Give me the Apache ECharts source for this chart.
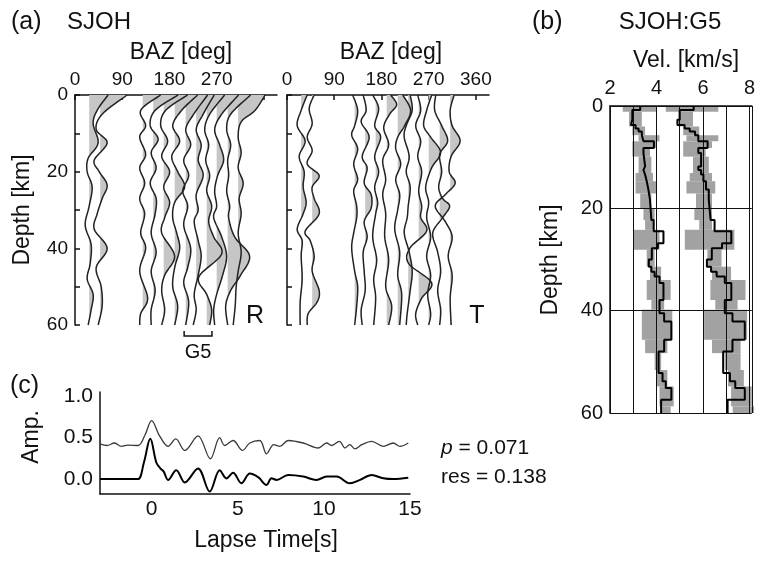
<!DOCTYPE html>
<html>
<head>
<meta charset="utf-8">
<script src="https://cdn.jsdelivr.net/npm/echarts@6/dist/echarts.min.js"></script>
<style>
  html, body { margin: 0; padding: 0; background: #fff; }
  #chart { width: 758px; height: 564px; }
</style>
</head>
<body>
<div id="chart"></div>
<script>
const FONT = '"Liberation Sans", Arial, Helvetica, sans-serif';
const INK = '#111';

// ---- (a) receiver functions, one trace per back azimuth ----
const BAZ = [27, 48, 129, 149, 169, 190, 211, 231, 251, 270, 291, 311];
const BAZ_TICKS = [0, 90, 180, 270, 360];
const DEPTH_LABELS = [0, 20, 40, 60];
const G5_RANGE = [208, 261];

// [depth km, amplitude]
const R_TRACES = [
  [[0,0.38],[4,0.16],[7.5,0.08],[12.5,0.18],[16.5,-0.02],[20,-0.04],[24,0.06],[29,0],[34,-0.08],[39,0.04],[44,0.02],[48,-0.04],[52,0.08],[56,0.04],[60,-0.02]],
  [[0,0.54],[5,0.04],[9,-0.08],[12.5,0.14],[17,-0.12],[20,-0.02],[23.5,0.14],[27,0.04],[31,-0.06],[35,-0.12],[40,0.14],[45,-0.08],[50,0.02],[55,0.04],[60,-0.04]],
  [[0,0.36],[4,-0.04],[8,0.06],[11,-0.06],[15.5,0.06],[19,-0.06],[23,0.04],[27,-0.06],[31,0.04],[36,-0.04],[40,0.06],[46,-0.06],[53,0.1],[57,-0.04],[60,-0.06]],
  [[0,0.5],[4,0.04],[8,-0.06],[11.5,0.1],[15,-0.04],[19,0.06],[23,-0.06],[27,0.06],[31,0.04],[36,-0.04],[41,0.06],[46,-0.04],[51,0.04],[56,-0.04],[60,-0.04]],
  [[0,0.48],[4,0.04],[8,-0.06],[12,0.08],[16,-0.04],[20,0.12],[24,0],[28,0.12],[32,0.02],[36,-0.04],[42,0.22],[47,0.02],[51,-0.04],[56,0.02],[60,-0.04]],
  [[0,0.46],[4,0.14],[8,-0.04],[12,0.1],[16,-0.06],[20,0.06],[24,0.2],[28,0],[32,-0.04],[36,0.04],[40,0.1],[45,0],[50,-0.04],[55,0.06],[60,0]],
  [[0,0.44],[5,0.16],[9,0],[13,0.1],[17,-0.04],[21,0.06],[25,-0.06],[29,0.04],[34,-0.04],[40,0.1],[45,0.04],[49,-0.04],[54,0.06],[60,0]],
  [[0,0.36],[5,0.14],[9,0],[13,0.1],[17,0.04],[21,0.14],[26,0],[30,0.04],[33,-0.04],[38,0.04],[42,0.1],[47,0.04],[52,-0.04],[56,0],[60,-0.06]],
  [[0,0.36],[5,0.06],[9,-0.04],[13,0.04],[17,-0.02],[21,0.06],[25,0],[29,0.1],[33,0.04],[37,0.14],[41.5,0.3],[47.5,-0.16],[52,0],[56,0.1],[60,0.06]],
  [[0,0.44],[5,0.1],[9,-0.04],[13,0.06],[17,0.14],[21,0.02],[25,-0.04],[29,0],[32,-0.06],[37,0.1],[42,0.2],[47,0.12],[52,0],[56,-0.06],[60,-0.04]],
  [[0,0.46],[5,0.06],[9,-0.02],[13,0.06],[17,0],[21,0.02],[25,-0.02],[29,0.04],[32,0.02],[37,0.14],[42,0.44],[47,0.26],[51,0.06],[55,-0.04],[60,0]],
  [[0,0.54],[4,0.34],[7,0.06],[11,0],[15,0.06],[19,0],[23,0.1],[27,0.02],[31,0.06],[36,0],[41,0.06],[46,0],[50,-0.04],[55,-0.06],[60,-0.1]]
];

const T_TRACES = [
  [[0,0.12],[4,0],[8,-0.08],[12,0.08],[16,-0.04],[20,0.06],[24,0.04],[28,0.1],[31,0.04],[35,-0.08],[38,0.02],[42,0],[48,0.02],[54,-0.02],[60,-0.02]],
  [[0,0.04],[3.5,-0.06],[7.5,0],[11,-0.1],[14.5,0],[18,-0.1],[21,0.14],[24,0],[27,0.04],[31,0.14],[35.5,-0.14],[38,-0.04],[42,0.04],[46,0],[51,0.14],[54,0.1],[57,-0.08],[60,-0.1]],
  [[0,-0.04],[4,0.06],[8,0],[10.5,-0.06],[14,0.06],[18,-0.02],[22,0.06],[25,-0.02],[29,0.04],[32,0.04],[36,-0.02],[40,-0.06],[46,0],[50,0.06],[55,0.04],[60,0]],
  [[0,-0.04],[4,0.02],[7,-0.08],[11,0.08],[16,-0.06],[19,0.04],[23,-0.02],[26,0.12],[29.5,0.12],[33,-0.02],[37,0.04],[41,-0.04],[46,-0.02],[51,0],[56,-0.08],[60,-0.06]],
  [[0,-0.06],[3.5,0.06],[8,-0.02],[11,0.1],[16,-0.02],[20,0.06],[24,-0.02],[28,0.04],[31,0],[37,-0.06],[43,0.02],[48,-0.04],[53,0],[60,-0.04]],
  [[0,0.08],[2.5,0.2],[5,0.06],[8.5,-0.06],[13,0.04],[17,-0.08],[22,-0.02],[26,-0.08],[31,-0.02],[37,-0.04],[43,0.04],[50,-0.02],[55,0.1],[60,0.04]],
  [[0,0.1],[4,0.26],[8,0.14],[11,0],[14,-0.04],[18,0.06],[22,-0.04],[26,0.04],[30,0],[35,-0.06],[41,0.04],[47,0],[52,0.08],[60,0.04]],
  [[0,0.04],[4,0.08],[8,-0.04],[11,-0.08],[16,0.02],[20,-0.04],[24,0.04],[29,0],[32,-0.02],[36,-0.08],[41,0.02],[46,0.08],[51,0.04],[57,-0.02],[60,-0.04]],
  [[0,-0.02],[4,0.04],[8,-0.06],[12,0.04],[16,-0.02],[20,0.06],[25,0],[29,0.06],[32,0.04],[35.5,0.16],[40,-0.18],[44,-0.2],[49,0.26],[53,0.06],[57,-0.06],[60,-0.02]],
  [[0,0.06],[4,-0.04],[8,-0.1],[11,0.04],[15,0.24],[19,0.06],[24,-0.06],[28,0],[32,-0.04],[37,0.04],[42,-0.04],[47,0.04],[52,-0.02],[57,0.04],[60,0]],
  [[0,-0.08],[4,-0.1],[8,0.04],[12,0.16],[15.5,0],[20,0.04],[24,-0.02],[27,0.06],[29,0.2],[32,0.06],[36,-0.14],[41,-0.04],[46,0.02],[51,-0.04],[56,0.02],[60,0]],
  [[0,0.08],[4,0],[8,0.04],[12,0.2],[16,0.02],[20,-0.02],[23,0.1],[26,-0.1],[29,-0.3],[33,-0.1],[37,0.04],[42,-0.04],[47,0.04],[53,0],[60,0.02]]
];

// ---- (b) velocity model: [top km, bottom km, velocity km/s] ----
const VS_LAYERS = [
  [0,0.8,3.30],[0.8,2.7,2.96],[2.7,3.7,2.90],[3.7,4.4,3.10],[4.4,5.0,3.23],[5.0,5.7,3.37],[5.7,6.9,3.44],
  [6.9,8.2,3.89],[8.2,9.2,3.44],[9.2,11.8,3.51],[11.8,12.5,3.44],[12.5,13.4,3.51],[13.4,14.7,3.58],
  [14.7,16.3,3.65],[16.3,18.3,3.72],[18.3,22.3,3.78],[22.3,24.5,3.88],[24.5,26.8,4.30],[26.8,27.8,4.06],
  [27.8,30,3.80],[30,31.4,3.67],[31.4,32.4,3.78],[32.4,33.3,3.92],[33.3,34.6,4.13],[34.6,37.9,4.30],
  [37.9,40.5,4.13],[40.5,42.1,4.33],[42.1,45.7,4.64],[45.7,48,4.33],[48,52.2,4.09],[52.2,53.8,4.26],
  [53.8,55.1,4.40],[55.1,57.4,4.64],[57.4,60,4.20]
];
const VP_LAYERS = [
  [0,0.8,5.60],[0.8,2.7,5.00],[2.7,3.7,4.90],[3.7,4.4,5.21],[4.4,5.0,5.43],[5.0,5.7,5.66],[5.7,6.9,5.80],
  [6.9,8.2,6.20],[8.2,9.2,5.80],[9.2,11.8,5.92],[11.8,12.5,5.80],[12.5,13.4,5.92],[13.4,14.7,6.02],
  [14.7,16.3,6.13],[16.3,18.3,6.25],[18.3,22.3,6.33],[22.3,24.5,6.50],[24.5,26.8,7.22],[26.8,27.8,6.82],
  [27.8,30,6.38],[30,31.4,6.17],[31.4,32.4,6.35],[32.4,33.3,6.59],[33.3,34.6,6.94],[34.6,37.9,7.22],
  [37.9,40.5,6.94],[40.5,42.1,7.27],[42.1,45.7,7.80],[45.7,48,7.27],[48,52.2,6.87],[52.2,53.8,7.16],
  [53.8,55.1,7.39],[55.1,57.4,7.80],[57.4,60,7.06]
];
// spread of accepted models: [top km, bottom km, min, max]
const VS_SPREAD = [
  [0,1.1,2.55,3.99],[1.1,4,2.82,3.37],[4,5.7,2.96,3.51],[5.7,6.9,3.23,4.13],[6.9,8.2,2.96,3.99],
  [8.2,9.9,2.96,3.72],[9.9,13.1,3.23,3.78],[13.1,14.7,3.10,3.85],[14.7,17.1,3.10,3.99],[17.1,20.1,3.30,3.78],
  [20.1,22.3,3.44,3.92],[22.3,24.2,3.51,3.85],[24.2,28.1,3.03,4.13],[28.1,31.4,3.58,3.92],[31.4,34,3.72,4.20],
  [34,37.9,3.58,4.61],[37.9,39.8,3.78,4.33],[39.8,45.7,3.37,4.68],[45.7,48.3,3.51,4.47],[48.3,51.6,3.92,4.20],
  [51.6,54.8,3.99,4.47],[54.8,58.7,4.13,4.74],[58.7,60,4.20,4.61]
];
const VP_SPREAD = [
  [0,1.1,4.40,6.66],[1.1,4,4.95,5.57],[4,5.7,5.15,5.84],[5.7,6.9,5.29,6.66],[6.9,8.2,5.15,6.39],
  [8.2,9.9,5.15,6.12],[9.9,13.1,5.57,6.25],[13.1,14.7,5.43,6.39],[14.7,17.1,5.29,6.53],[17.1,20.1,5.70,6.39],
  [20.1,22.3,5.63,6.39],[22.3,24.2,5.84,6.39],[24.2,28.1,5.22,7.35],[28.1,31.4,6.19,6.80],[31.4,34,6.39,7.21],
  [34,37.9,6.32,7.83],[37.9,39.8,6.53,7.49],[39.8,45.7,6.05,7.90],[45.7,48.3,6.39,7.62],[48.3,51.6,6.94,7.62],
  [51.6,54.8,7.08,7.76],[54.8,58.7,7.21,8.10],[58.7,60,7.28,8.20]
];

// ---- (c) waveforms: [lapse time s, amplitude] ----
const WAVE_UPPER = [
  [-3.0,0.02],[-2.6,0],[-2.15,0.03],[-1.76,-0.01],[-1.37,0.005],[-0.79,0],[-0.4,0.12],[0,0.3],[0.45,0.12],
  [0.95,-0.01],[1.4,0.08],[1.92,-0.06],[2.69,0.115],[3.41,-0.16],[3.95,0.095],[4.24,0],[4.73,0.06],
  [5.27,-0.06],[5.7,0.03],[6.28,0.06],[6.67,-0.1],[7.09,0.01],[7.44,-0.01],[7.93,0.06],[8.8,0.03],
  [9.67,-0.03],[10.16,0.03],[10.45,0],[10.9,0.05],[11.23,-0.03],[11.5,0.01],[11.8,-0.04],[12.2,0.01],
  [12.77,0.05],[13.45,-0.01],[14.03,0.03],[14.42,-0.01],[14.9,0.03]
];
const WAVE_LOWER = [
  [-3,0],[-1.5,0],[-0.8,0],[-0.45,0.2],[-0.08,0.485],[0.27,0.2],[0.5,0.13],[0.7,0.09],[0.95,-0.01],
  [1.43,0.107],[1.92,-0.04],[2.69,0.127],[3.37,-0.15],[3.95,0.107],[4.34,0.008],[4.73,0.075],[5.21,-0.05],
  [5.7,0.067],[6.2,0.02],[6.67,-0.071],[6.96,0.01],[7.25,-0.01],[7.93,0.048],[8.8,0.03],[9.57,-0.01],
  [10.16,0.03],[10.74,0.03],[11.5,-0.05],[12.1,-0.01],[12.77,0.048],[13.45,0.01],[14.03,0],[14.9,0.015]
];
const UPPER_SHIFT = 0.405;
const TIME_TICKS = [0, 5, 10, 15];
const AMP_TICKS = [0, 0.5, 1.0];
const P_VALUE = 0.071;
const RES_VALUE = 0.138;

const AMP_SCALE = 95;      // deg of BAZ per unit amplitude
const FILL_A = '#c6c6c6';
const FILL_B = '#a2a2a2';

const chart = echarts.init(document.getElementById('chart'));

// Catmull-Rom through pixel points, so fill and outline share one curve
function spline(pts, steps) {
  const out = [];
  for (let i = 0; i < pts.length - 1; i++) {
    const p0 = pts[i - 1] || pts[i], p1 = pts[i], p2 = pts[i + 1], p3 = pts[i + 2] || pts[i + 1];
    for (let s = 0; s < steps; s++) {
      const t = s / steps, t2 = t * t, t3 = t2 * t;
      out.push([0, 1].map(k => 0.5 * (2 * p1[k] + (p2[k] - p0[k]) * t +
        (2 * p0[k] - 5 * p1[k] + 4 * p2[k] - p3[k]) * t2 +
        (3 * p1[k] - p0[k] - 3 * p2[k] + p3[k]) * t3)));
    }
  }
  out.push(pts[pts.length - 1]);
  return out;
}

function tracePoints(traces, api) {
  const i = api.value(1);
  const baz = BAZ[i];
  const pts = traces[i].map(([d, a]) => api.coord([baz + a * AMP_SCALE, d]));
  return { baz, pts: spline(pts, 8) };
}

function fillRenderer(traces) {
  return function (params, api) {
    const { baz, pts } = tracePoints(traces, api);
    const top = api.coord([baz, 0]), bot = api.coord([baz, 60]);
    const poly = [[top[0] - 80, top[1]]].concat(pts, [[bot[0] - 80, bot[1]]]);
    return {
      type: 'polygon',
      shape: { points: poly },
      style: { fill: FILL_A },
      clipPath: { type: 'rect', shape: { x: top[0], y: top[1] - 2, width: 120, height: bot[1] - top[1] + 4 } }
    };
  };
}

function lineRenderer(traces) {
  return function (params, api) {
    const { pts } = tracePoints(traces, api);
    return { type: 'polyline', shape: { points: pts }, style: { stroke: '#222', lineWidth: 1.5, fill: null } };
  };
}

function blockRenderer(params, api) {
  const p0 = api.coord([api.value(2), api.value(0)]);
  const p1 = api.coord([api.value(3), api.value(1)]);
  return {
    type: 'rect',
    shape: { x: p0[0], y: p0[1], width: p1[0] - p0[0], height: p1[1] - p0[1] },
    style: { fill: FILL_B }
  };
}

function stepData(layers) {
  const out = [];
  layers.forEach(([top, bottom, v]) => { out.push([v, top]); out.push([v, bottom]); });
  return out;
}

function bracketRenderer(params, api) {
  const a = api.coord([api.value(0), 60]);
  const b = api.coord([api.value(1), 60]);
  return {
    type: 'group',
    children: [
      { type: 'polyline', shape: { points: [[a[0], a[1] + 6], [a[0], a[1] + 11], [b[0], b[1] + 11], [b[0], b[1] + 6]] },
        style: { stroke: INK, lineWidth: 1.5, fill: null } },
      { type: 'text', style: { text: 'G5', x: (a[0] + b[0]) / 2, y: a[1] + 27, align: 'center', verticalAlign: 'middle',
        font: '20px ' + FONT, fill: INK } }
    ]
  };
}

const tickFont = { color: INK, fontFamily: FONT, fontSize: 19 };
const blackLine = { color: INK, width: 1.5 };

function bazAxis(grid, labels) {
  return {
    type: 'value', gridIndex: grid, position: 'top', min: 0, max: 385,
    axisLine: { show: true, onZero: false, lineStyle: blackLine },
    axisTick: { show: true, inside: true, length: 5, customValues: BAZ_TICKS, lineStyle: blackLine },
    axisLabel: Object.assign({ customValues: labels, margin: 6 }, tickFont),
    splitLine: { show: false }
  };
}

function depthAxis(grid, showLabels) {
  return {
    type: 'value', gridIndex: grid, inverse: true, min: 0, max: 60, interval: 10,
    axisLine: { show: true, onZero: false, lineStyle: blackLine },
    axisTick: { show: true, inside: true, length: 5, lineStyle: blackLine },
    axisLabel: Object.assign({ show: showLabels, margin: 7,
      formatter: v => (DEPTH_LABELS.indexOf(v) >= 0 ? String(v) : '') }, tickFont),
    splitLine: { show: false }
  };
}

function label(text, x, y, size, opts) {
  return Object.assign({
    type: 'text', x: x, y: y,
    style: { text: text, x: 0, y: 0, font: size + 'px ' + FONT, fill: INK, align: 'left', verticalAlign: 'middle' }
  }, opts || {});
}
function centered(text, x, y, size, rotation) {
  const el = label(text, x, y, size);
  el.style.align = 'center';
  if (rotation) el.rotation = rotation;
  return el;
}

const option = {
  backgroundColor: '#fff',
  animation: false,
  grid: [
    { left: 75, top: 95, width: 202, height: 230 },
    { left: 287, top: 95, width: 202, height: 230 },
    { left: 610, top: 106, width: 148, height: 307 },
    { left: 100, top: 392, width: 310, height: 102 }
  ],
  xAxis: [
    bazAxis(0, [0, 90, 180, 270]),
    bazAxis(1, [0, 90, 180, 270, 360]),
    {
      type: 'value', gridIndex: 2, position: 'top', min: 2, max: 8.1, interval: 1,
      axisLine: { show: true, onZero: false, lineStyle: blackLine },
      axisTick: { show: false },
      axisLabel: Object.assign({ margin: 8, formatter: v => (v % 2 === 0 ? String(v) : '') }, tickFont, { fontSize: 20 }),
      splitLine: { show: true, lineStyle: { color: INK, width: 1 } }
    },
    {
      type: 'value', gridIndex: 3, min: -3, max: 15,
      axisLine: { show: true, onZero: false, lineStyle: blackLine },
      axisTick: { show: false },
      axisLabel: Object.assign({ customValues: TIME_TICKS, margin: 5 }, tickFont, { fontSize: 21 }),
      splitLine: { show: false }
    }
  ],
  yAxis: [
    depthAxis(0, true),
    depthAxis(1, false),
    {
      type: 'value', gridIndex: 2, inverse: true, min: 0, max: 60, interval: 20,
      axisLine: { show: true, onZero: false, lineStyle: blackLine },
      axisTick: { show: false },
      axisLabel: Object.assign({ margin: 7 }, tickFont, { fontSize: 20 }),
      splitLine: { show: true, lineStyle: { color: INK, width: 1 } }
    },
    {
      type: 'value', gridIndex: 3, min: -0.18, max: 1.05,
      axisLine: { show: true, onZero: false, lineStyle: blackLine },
      axisTick: { show: false },
      axisLabel: Object.assign({ customValues: AMP_TICKS, margin: 7, formatter: v => v.toFixed(1) }, tickFont, { fontSize: 21 }),
      splitLine: { show: false }
    }
  ],
  series: [
    { type: 'custom', xAxisIndex: 0, yAxisIndex: 0, z: 1, clip: false, renderItem: fillRenderer(R_TRACES), data: BAZ.map((b, i) => [b, i]) },
    { type: 'custom', xAxisIndex: 0, yAxisIndex: 0, z: 3, clip: false, renderItem: lineRenderer(R_TRACES), data: BAZ.map((b, i) => [b, i]) },
    { type: 'custom', xAxisIndex: 1, yAxisIndex: 1, z: 1, clip: false, renderItem: fillRenderer(T_TRACES), data: BAZ.map((b, i) => [b, i]) },
    { type: 'custom', xAxisIndex: 1, yAxisIndex: 1, z: 3, clip: false, renderItem: lineRenderer(T_TRACES), data: BAZ.map((b, i) => [b, i]) },
    { type: 'custom', xAxisIndex: 0, yAxisIndex: 0, z: 3, clip: false, renderItem: bracketRenderer, data: [G5_RANGE] },

    { type: 'custom', xAxisIndex: 2, yAxisIndex: 2, z: -1, renderItem: blockRenderer, data: VS_SPREAD },
    { type: 'custom', xAxisIndex: 2, yAxisIndex: 2, z: -1, renderItem: blockRenderer, data: VP_SPREAD },
    { type: 'line', xAxisIndex: 2, yAxisIndex: 2, z: 4, showSymbol: false, data: stepData(VS_LAYERS),
      lineStyle: { color: '#000', width: 2 } },
    { type: 'line', xAxisIndex: 2, yAxisIndex: 2, z: 4, showSymbol: false, data: stepData(VP_LAYERS),
      lineStyle: { color: '#000', width: 2 } },

    { type: 'line', xAxisIndex: 3, yAxisIndex: 3, showSymbol: false, smooth: 0.35,
      data: WAVE_UPPER.map(([t, a]) => [t, a + UPPER_SHIFT]), lineStyle: { color: '#3a3a3a', width: 1.3 } },
    { type: 'line', xAxisIndex: 3, yAxisIndex: 3, showSymbol: false, smooth: 0.35,
      data: WAVE_LOWER, lineStyle: { color: '#000', width: 2 } }
  ],
  graphic: [
    label('(a)', 11, 22, 25),
    label('SJOH', 67, 22, 24),
    centered('BAZ [deg]', 181, 53, 23),
    centered('BAZ [deg]', 391, 53, 23),
    centered('Depth [km]', 23, 210, 23, Math.PI / 2),
    centered('R', 255, 316, 25),
    centered('T', 477, 316, 25),
    label('(b)', 532, 22, 25),
    centered('SJOH:G5', 670, 22, 24),
    centered('Vel. [km/s]', 686, 61, 23),
    centered('Depth [km]', 551, 260, 23, Math.PI / 2),
    label('(c)', 10, 386, 25),
    centered('Amp.', 32, 437, 23, Math.PI / 2),
    centered('Lapse Time[s]', 266, 541, 23),
    {
      type: 'text', x: 441, y: 448,
      style: { text: '{i|p} = ' + P_VALUE.toFixed(3), x: 0, y: 0, font: '21px ' + FONT, fill: INK, verticalAlign: 'middle',
        rich: { i: { fontStyle: 'italic', fontSize: 21, fontFamily: FONT, fill: INK } } }
    },
    label('res = ' + RES_VALUE.toFixed(3), 441, 477, 21)
  ]
};

chart.setOption(option);
</script>
</body>
</html>
